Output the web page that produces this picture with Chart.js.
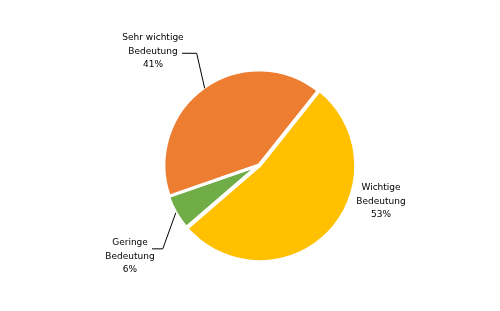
<!DOCTYPE html>
<html>
<head>
<meta charset="utf-8">
<script src="https://cdn.jsdelivr.net/npm/chart.js@4/dist/chart.umd.min.js"></script>
<style>
  html, body { margin: 0; padding: 0; background: #fff; }
  #wrap { width: 500px; height: 311px; }
</style>
</head>
<body>
<div id="wrap"><canvas id="pieChart" width="500" height="311"></canvas></div>
<script>
// data
const categories = [['Wichtige', 'Bedeutung'], ['Geringe', 'Bedeutung'], ['Sehr wichtige', 'Bedeutung']];
const shares = [53, 6, 41];
const sliceColors = ['#FFC000', '#70AD47', '#ED7D31'];

// label placement: text centre + optional leader elbow (offset from the slice edge)
const labelLayout = [
  { x: 381, y: 188, leader: null },
  { x: 130, y: 243, leader: { dx: -13, dy: 36, endX: 152 } },
  { x: 153, y: 38, leader: { dx: -8, dy: -35, endX: 182 } }
];

const pieLabels = {
  id: 'pieLabels',
  afterDatasetsDraw(chart) {
    const ctx = chart.ctx;
    const meta = chart.getDatasetMeta(0);
    ctx.save();
    ctx.font = '9px "DejaVu Sans", Verdana, sans-serif';
    ctx.fillStyle = '#000';
    ctx.textAlign = 'center';
    ctx.textBaseline = 'middle';
    meta.data.forEach((arc, i) => {
      const pos = labelLayout[i];
      const lines = categories[i].concat([shares[i] + '%']);
      lines.forEach((t, k) => ctx.fillText(t, pos.x, pos.y + k * 13.3));
      if (pos.leader) {
        const mid = (arc.startAngle + arc.endAngle) / 2;
        const off = arc.options.offset || 0;
        const ax = arc.x + Math.cos(mid) * (arc.outerRadius + off - 1);
        const ay = arc.y + Math.sin(mid) * (arc.outerRadius + off - 1);
        const ex = ax + pos.leader.dx;
        const ey = ay + pos.leader.dy;
        ctx.beginPath();
        ctx.strokeStyle = '#000';
        ctx.lineWidth = 1;
        ctx.moveTo(ax, ay);
        ctx.lineTo(ex, ey);
        ctx.lineTo(pos.leader.endX, ey);
        ctx.stroke();
      }
    });
    ctx.restore();
  }
};

new Chart(document.getElementById('pieChart'), {
  type: 'pie',
  data: {
    labels: categories,
    datasets: [{
      data: shares,
      backgroundColor: sliceColors,
      borderColor: '#fff',
      borderWidth: 3,
      offset: [4, 2, 0]
    }]
  },
  options: {
    responsive: false,
    animation: false,
    rotation: 38.5,
    radius: 95,
    layout: { padding: { left: 165, right: 147, top: 71, bottom: 52 } },
    plugins: {
      legend: { display: false },
      tooltip: { enabled: false }
    }
  },
  plugins: [pieLabels]
});
</script>
</body>
</html>
